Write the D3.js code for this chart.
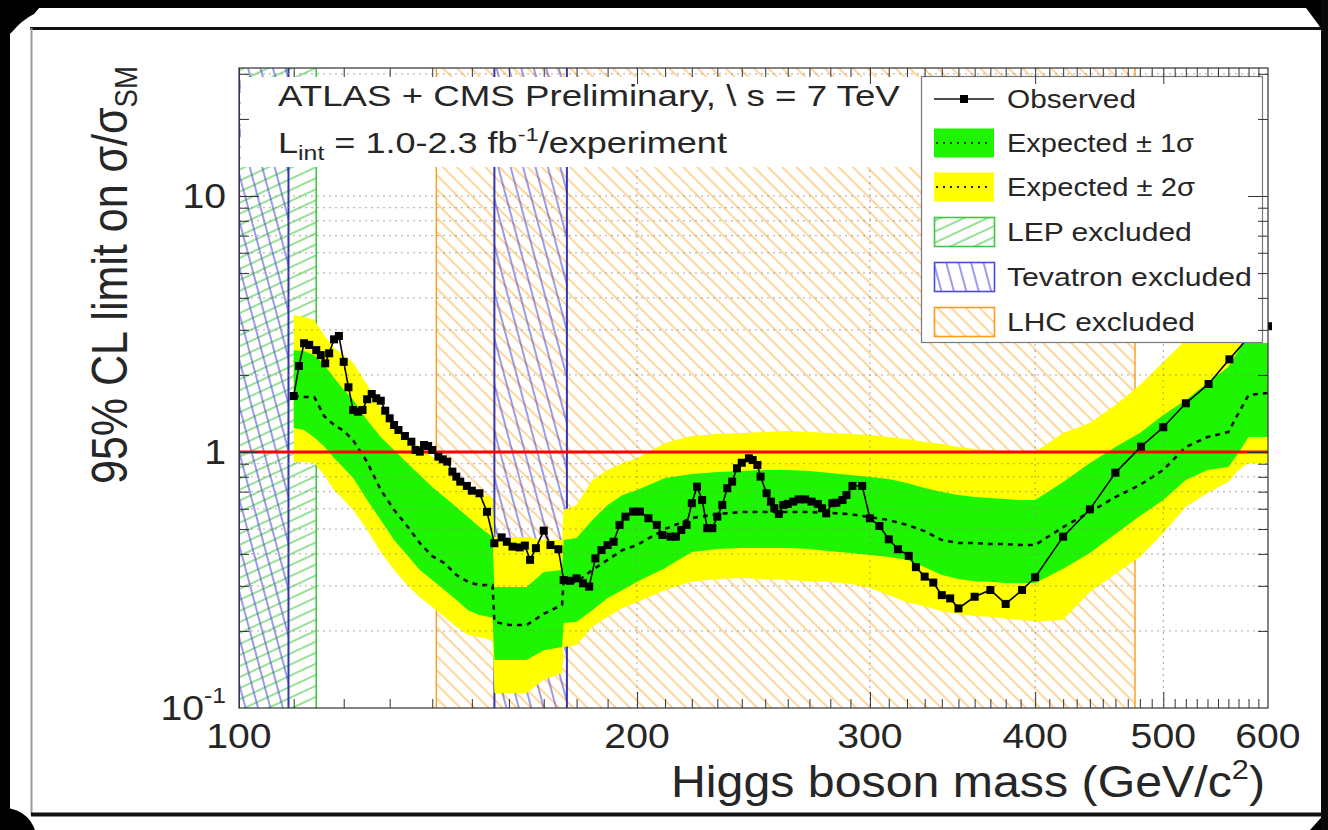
<!DOCTYPE html>
<html lang="en">
<head>
<meta charset="utf-8">
<title>ATLAS + CMS combined Higgs boson limit</title>
<script src="https://cdn.jsdelivr.net/npm/d3@7"></script>
<style>
  html, body { margin: 0; padding: 0; background: #000; }
  svg { display: block; }
</style>
</head>
<body>
<svg id="chart" width="1328" height="830"></svg>
<script>
// ---------------------------------------------------------------------------
// Data: combined 95% CL upper limit on sigma/sigma_SM versus Higgs mass
// ---------------------------------------------------------------------------
const massObs = [110,111,112,113,114.4,115.3,116.2,117,118,119,
  120,121,122,123,124,125,126,127,128,129,
  130,131,132,133.5,135,136,137,138,139,140,
  141.5,142.6,143.7,145,146,147,148.7,150,152,154,
  156,158,159.4,161,163,164.5,166,167.7,170,172,
  174.4,176,178,180,182,184,186,188,190,192,
  194,196,198.6,201,204,207,209,212,214,216,
  218,220,222,224,226,228,230,232,234,236,
  238,240,243,244.6,246.6,248,250.6,252.5,254,256,
  258,260,262.5,265,268,271,274,276,278,281,
  283,286,288,291,296,300,305,310,315,321,
  325,330,335,340,345,350,360,370,380,391,
  400,420,440,460,481,500,520,541,561,580,600];

const limitObs = [1.655,2.167,2.66,2.62,2.50,2.39,2.22,2.43,2.755,2.84,
  2.25,1.79,1.459,1.437,1.459,1.607,1.685,1.621,1.586,1.45,
  1.354,1.275,1.219,1.155,1.097,1.018,1.003,1.065,1.055,1.018,
  0.959,0.936,0.917,0.838,0.801,0.766,0.737,0.706,0.690,0.584,
  0.440,0.464,0.446,0.427,0.424,0.431,0.379,0.421,0.493,0.433,
  0.417,0.316,0.314,0.321,0.307,0.298,0.384,0.414,0.433,0.446,
  0.519,0.559,0.585,0.585,0.551,0.519,0.474,0.467,0.467,0.496,
  0.519,0.631,0.732,0.649,0.504,0.504,0.559,0.621,0.722,0.766,
  0.864,0.908,0.945,0.930,0.890,0.801,0.690,0.640,0.603,0.573,
  0.621,0.627,0.640,0.653,0.653,0.640,0.627,0.603,0.576,0.631,
  0.634,0.649,0.679,0.737,0.737,0.551,0.514,0.456,0.417,0.393,
  0.355,0.326,0.309,0.276,0.268,0.245,0.272,0.289,0.255,0.289,
  0.324,0.467,0.597,0.830,1.049,1.249,1.55,1.844,2.302,2.81,3.10];

const massExp = [110,112,114,116,118,120,122,125,128,131,
  134,137,140,143,146,149,152,155.5,156,160,
  165,170,175.5,176,180,185,190,195,200,210,
  220,230,240,250,260,270,280,290,300,310,
  320,330,340,350,360,370,380,390,400,420,
  440,460,480,500,520,540,560,570,580,600];

const exp2Lo = [0.914,0.914,0.906,0.813,0.711,0.649,0.594,0.496,0.407,0.346,
  0.302,0.271,0.248,0.227,0.207,0.193,0.189,0.184,0.1145,0.1145,
  0.1145,0.129,0.137,0.173,0.176,0.207,0.227,0.246,0.259,0.289,
  0.311,0.319,0.322,0.319,0.316,0.313,0.311,0.305,0.294,0.276,
  0.259,0.250,0.239,0.233,0.229,0.227,0.223,0.221,0.217,0.221,
  0.284,0.334,0.389,0.483,0.610,0.692,0.763,0.851,0.906,0.906];

const exp1Lo = [1.24,1.22,1.14,1.05,0.947,0.866,0.791,0.649,0.542,0.453,
  0.396,0.346,0.316,0.289,0.264,0.241,0.231,0.225,0.154,0.154,
  0.154,0.168,0.173,0.215,0.217,0.241,0.269,0.289,0.311,0.352,
  0.407,0.418,0.422,0.422,0.422,0.418,0.410,0.403,0.396,0.389,
  0.379,0.355,0.331,0.319,0.313,0.311,0.308,0.308,0.308,0.350,
  0.403,0.478,0.562,0.649,0.777,0.851,0.874,0.991,1.144,1.144];

const expMedian = [1.655,1.64,1.64,1.38,1.275,1.21,1.11,0.914,0.711,0.594,
  0.514,0.441,0.392,0.368,0.331,0.311,0.302,0.302,0.217,0.211,
  0.211,0.233,0.253,0.311,0.311,0.346,0.379,0.414,0.433,0.500,
  0.552,0.572,0.583,0.583,0.583,0.583,0.578,0.572,0.557,0.542,
  0.519,0.491,0.453,0.441,0.441,0.437,0.437,0.433,0.433,0.509,
  0.583,0.667,0.743,0.851,1.046,1.144,1.197,1.42,1.670,1.700];

const exp1Hi = [2.50,2.48,2.39,2.19,1.95,1.75,1.60,1.33,1.144,1.018,
  0.906,0.813,0.730,0.667,0.610,0.557,0.509,0.466,0.297,0.297,
  0.297,0.340,0.346,0.453,0.461,0.542,0.621,0.679,0.711,0.791,
  0.820,0.835,0.843,0.851,0.851,0.843,0.828,0.813,0.799,0.784,
  0.757,0.723,0.698,0.679,0.667,0.661,0.655,0.649,0.649,0.763,
  0.906,1.046,1.186,1.395,1.597,1.86,2.148,2.50,2.996,3.279];

const exp2Hi = [3.43,3.37,3.28,2.86,2.55,2.39,2.23,1.83,1.485,1.30,
  1.144,1.046,0.956,0.906,0.806,0.730,0.692,0.661,0.466,0.466,
  0.466,0.453,0.453,0.594,0.621,0.777,0.851,0.906,0.9475,1.084,
  1.155,1.176,1.186,1.197,1.208,1.197,1.186,1.176,1.165,1.144,
  1.124,1.094,1.075,1.046,1.027,1.018,1.009,1.0,1.0,1.186,
  1.298,1.526,1.827,2.247,2.738,3.134,3.586,3.75,3.925,4.105];

// excluded mass ranges (GeV)
const lepExcluded = [100, 114.4];
const tevatronExcluded = [[100, 109], [156, 177]];
const lhcExcluded = [141, 476];
const smLevel = 1;

// axis ticks and labels
const xTickValues = [100, 200, 300, 400, 500, 600];
const xGridValues = [200, 300, 400, 500];
const xMinorValues = [110,120,130,140,150,160,170,180,190,210,220,230,240,250,260,270,280,290,
  310,320,330,340,350,360,370,380,390,410,420,430,440,450,460,470,480,490,510,520,530,540,550,560,570,580,590];
const yTickValues = [0.1, 1, 10];
const yMinorValues = [0.2,0.3,0.4,0.5,0.6,0.7,0.8,0.9,2,3,4,5,6,7,8,9,20,30];
const legendLabels = ['Observed', 'Expected \u00b1 1\u03c3', 'Expected \u00b1 2\u03c3',
  'LEP excluded', 'Tevatron excluded', 'LHC excluded'];

// ---------------------------------------------------------------------------
// Styling
// ---------------------------------------------------------------------------
const FONT = '"Liberation Sans", Arial, Helvetica, sans-serif';
const INK = '#262626';
const GREEN = '#1ef500';
const YELLOW = '#ffff00';
const LEP_COL = '#3fc83f';
const TEV_COL = '#4a4ad6';
const TEV_EDGE = '#3434b0';
const LHC_COL = '#ffb347';
const LHC_EDGE = '#ff9a1f';

const svg = d3.select('#chart');

// ---- surrounding slide ----------------------------------------------------
svg.append('rect').attr('width', 1328).attr('height', 830).attr('fill', '#000');
svg.append('rect').attr('x', 10).attr('y', 8).attr('width', 1312).attr('height', 822).attr('fill', '#fff');
svg.append('path').attr('d', 'M0,0 H46 L34,14 Q22,20 12,32 L0,42 Z').attr('fill', '#000');
svg.append('ellipse').attr('cx', 4).attr('cy', 838).attr('rx', 32).attr('ry', 30).attr('fill', '#000');
svg.append('path').attr('d', 'M1328,810 V830 H1310 Z').attr('fill', '#000');
svg.append('path').attr('d', 'M1300,0 H1328 V40 L1318,24 Z').attr('fill', '#000');
svg.append('rect').attr('x', 1321).attr('y', 0).attr('width', 7).attr('height', 830).attr('fill', '#0a0a0a');
svg.append('rect').attr('x', 30).attr('y', 27).attr('width', 1292).attr('height', 3).attr('fill', '#111');
svg.append('line').attr('x1', 31.5).attr('x2', 31.5).attr('y1', 28).attr('y2', 815)
  .attr('stroke', '#9a9a9a').attr('stroke-width', 2);
svg.append('rect').attr('x', 31).attr('y', 812.5).attr('width', 1291).attr('height', 4).attr('fill', '#111');

// ---- scales ---------------------------------------------------------------
const x = d3.scaleLog().domain([100, 600]).range([239, 1268]);
const y = d3.scaleLog().domain([0.1, Math.pow(10, 1.5)]).range([708, 68]);
const [X0, X1] = x.range();
const [Y0, Y1] = y.range();

// ---- hatch patterns ---------------------------------------------------------
const defs = svg.append('defs');
function hatch(id, spacing, angle, color, width) {
  const p = defs.append('pattern').attr('id', id)
    .attr('patternUnits', 'userSpaceOnUse')
    .attr('width', spacing).attr('height', spacing)
    .attr('patternTransform', `rotate(${angle})`);
  p.append('line').attr('x1', spacing / 2).attr('x2', spacing / 2)
    .attr('y1', 0).attr('y2', spacing)
    .attr('stroke', color).attr('stroke-width', width);
}
hatch('lep-hatch', 10, 65, LEP_COL, 1.1);
hatch('tev-hatch', 12, -15, TEV_COL, 1.1);
hatch('lhc-hatch', 10, -45, LHC_COL, 1.1);

defs.append('clipPath').attr('id', 'plot-clip')
  .append('rect').attr('x', X0).attr('y', Y1).attr('width', X1 - X0).attr('height', Y0 - Y1);

const plot = svg.append('g').attr('clip-path', 'url(#plot-clip)');

// ---- excluded regions -------------------------------------------------------
function region(range, pattern) {
  plot.append('rect')
    .attr('x', x(range[0])).attr('y', Y1)
    .attr('width', x(range[1]) - x(range[0])).attr('height', Y0 - Y1)
    .attr('fill', `url(#${pattern})`);
}
function edge(m, color, width) {
  plot.append('line').attr('x1', x(m)).attr('x2', x(m)).attr('y1', Y1).attr('y2', Y0)
    .attr('stroke', color).attr('stroke-width', width);
}
region(lhcExcluded, 'lhc-hatch');
region(lepExcluded, 'lep-hatch');
tevatronExcluded.forEach(r => region(r, 'tev-hatch'));
edge(lhcExcluded[0], LHC_EDGE, 1.4);
edge(lhcExcluded[1], LHC_EDGE, 1.4);
edge(lepExcluded[1], LEP_COL, 1.6);
tevatronExcluded.forEach(r => { edge(r[0], TEV_EDGE, 2); edge(r[1], TEV_EDGE, 2); });

// ---- expected bands ---------------------------------------------------------
const band = (lo, hi) => d3.area()
  .x((d, i) => x(massExp[i]))
  .y0((d, i) => y(lo[i]))
  .y1((d, i) => y(hi[i]));
plot.append('path').datum(massExp).attr('d', band(exp2Lo, exp2Hi)).attr('fill', YELLOW);
plot.append('path').datum(massExp).attr('d', band(exp1Lo, exp1Hi)).attr('fill', GREEN);

plot.append('path').datum(massExp)
  .attr('d', d3.line().x((d, i) => x(massExp[i])).y((d, i) => y(expMedian[i])))
  .attr('fill', 'none').attr('stroke', '#111').attr('stroke-width', 2.6)
  .attr('stroke-dasharray', '5,5');

// ---- grid ---------------------------------------------------------------------
const grid = plot.append('g').attr('stroke', '#8a8a8a').attr('stroke-width', 1)
  .attr('stroke-dasharray', '2,4').attr('opacity', 0.75);
yMinorValues.concat([10]).forEach(v => {
  grid.append('line').attr('x1', X0).attr('x2', X1).attr('y1', y(v)).attr('y2', y(v));
});
xGridValues.forEach(v => {
  grid.append('line').attr('x1', x(v)).attr('x2', x(v)).attr('y1', Y1).attr('y2', Y0);
});

// ---- SM reference line -------------------------------------------------------
plot.append('line').attr('x1', X0).attr('x2', X1)
  .attr('y1', y(smLevel)).attr('y2', y(smLevel))
  .attr('stroke', '#ff0000').attr('stroke-width', 3);

// ---- observed limit ----------------------------------------------------------
plot.append('path').datum(massObs)
  .attr('d', d3.line().x((d, i) => x(massObs[i])).y((d, i) => y(limitObs[i])))
  .attr('fill', 'none').attr('stroke', '#000').attr('stroke-width', 1.6);
svg.append('g').selectAll('rect').data(massObs).join('rect')
  .attr('x', (d, i) => x(massObs[i]) - 4)
  .attr('y', (d, i) => y(limitObs[i]) - 4)
  .attr('width', 8).attr('height', 8).attr('fill', '#000');

// ---- text helper: horizontal fit to a given width ------------------------------
function fitText(parent, o, build) {
  const g = parent.append('g');
  const t = g.append('text').attr('font-family', FONT)
    .attr('font-size', o.size).attr('fill', o.fill || INK);
  build(t);
  const len = t.node().getComputedTextLength();
  const s = o.width ? o.width / len : (o.stretch || 1);
  const w = len * s;
  const shift = o.anchor === 'end' ? -w : o.anchor === 'middle' ? -w / 2 : 0;
  const rot = o.rotate ? ` rotate(${o.rotate})` : '';
  g.attr('transform', `translate(${o.x},${o.y})${rot} translate(${shift},0) scale(${s},1)`);
  return t;
}

// ---- annotation box -----------------------------------------------------------
svg.append('rect').attr('x', 241).attr('y', 77).attr('width', 680).attr('height', 90).attr('fill', '#fff');
fitText(svg, { x: 278, y: 106, size: 29, width: 622 }, t =>
  t.text('ATLAS + CMS Preliminary, \\ s = 7 TeV'));
fitText(svg, { x: 278, y: 153, size: 29, width: 449 }, t => {
  t.append('tspan').text('L');
  t.append('tspan').attr('font-size', 20).attr('dy', 7).text('int');
  t.append('tspan').attr('font-size', 29).attr('dy', -7).text(' = 1.0-2.3 fb');
  t.append('tspan').attr('font-size', 19).attr('dy', -12).text('-1');
  t.append('tspan').attr('font-size', 29).attr('dy', 12).text('/experiment');
});

// ---- legend ---------------------------------------------------------------------
const legend = svg.append('g');
legend.append('rect').attr('x', 921).attr('y', 76).attr('width', 347).attr('height', 267).attr('fill', '#fff');
legend.append('rect').attr('x', 921.5).attr('y', 76.5).attr('width', 341).attr('height', 266)
  .attr('fill', 'none').attr('stroke', '#7a7a7a').attr('stroke-width', 1.2);
const rowY = [99, 143, 187, 232, 277, 322];
const labelW = [129, 187, 188, 185, 245, 188];
const symX = 934, symW = 60, symH = 29;

legend.append('line').attr('x1', symX).attr('x2', symX + symW).attr('y1', rowY[0]).attr('y2', rowY[0])
  .attr('stroke', '#111').attr('stroke-width', 1.6);
legend.append('rect').attr('x', symX + symW / 2 - 4).attr('y', rowY[0] - 4).attr('width', 8).attr('height', 8).attr('fill', '#000');

[[GREEN, 1], [YELLOW, 2]].forEach(([c, r]) => {
  legend.append('rect').attr('x', symX).attr('y', rowY[r] - symH / 2).attr('width', symW).attr('height', symH).attr('fill', c);
  legend.append('line').attr('x1', symX + 2).attr('x2', symX + symW - 2).attr('y1', rowY[r]).attr('y2', rowY[r])
    .attr('stroke', '#222').attr('stroke-width', 2).attr('stroke-dasharray', '2,5');
});
[['lep-hatch', LEP_COL, 3], ['tev-hatch', TEV_COL, 4], ['lhc-hatch', LHC_EDGE, 5]].forEach(([p, c, r]) => {
  legend.append('rect').attr('x', symX + 0.5).attr('y', rowY[r] - symH / 2).attr('width', symW).attr('height', symH)
    .attr('fill', `url(#${p})`).attr('stroke', c).attr('stroke-width', 1.6);
});
legendLabels.forEach((lab, i) => {
  fitText(legend, { x: 1007, y: rowY[i] + 9, size: 25, width: labelW[i] }, t => t.text(lab));
});

// ---- frame and axes --------------------------------------------------------------
const axes = svg.append('g');
function tickAxis(gen, tx, ty) {
  const g = axes.append('g').attr('transform', `translate(${tx},${ty})`).call(gen);
  g.select('.domain').remove();
  g.selectAll('line').attr('stroke', '#333').attr('stroke-width', 1);
}
tickAxis(d3.axisBottom(x).tickValues(xGridValues).tickSize(-16).tickFormat(''), 0, Y0);
tickAxis(d3.axisBottom(x).tickValues(xMinorValues).tickSize(-9).tickFormat(''), 0, Y0);
tickAxis(d3.axisTop(x).tickValues(xGridValues).tickSize(-16).tickFormat(''), 0, Y1);
tickAxis(d3.axisTop(x).tickValues(xMinorValues).tickSize(-9).tickFormat(''), 0, Y1);
tickAxis(d3.axisLeft(y).tickValues([1, 10]).tickSize(-20).tickFormat(''), X0, 0);
tickAxis(d3.axisLeft(y).tickValues(yMinorValues).tickSize(-10).tickFormat(''), X0, 0);
tickAxis(d3.axisRight(y).tickValues([1, 10]).tickSize(-20).tickFormat(''), X1, 0);
tickAxis(d3.axisRight(y).tickValues(yMinorValues).tickSize(-10).tickFormat(''), X1, 0);
axes.append('rect').attr('x', X0).attr('y', Y1).attr('width', X1 - X0).attr('height', Y0 - Y1)
  .attr('fill', 'none').attr('stroke', '#333').attr('stroke-width', 1.2);

// tick labels
xTickValues.forEach(v => {
  fitText(axes, { x: x(v), y: 748, size: 35, stretch: 1.12, anchor: 'middle' }, t => t.text(String(v)));
});
yTickValues.forEach(v => {
  fitText(axes, { x: 226, y: y(v) + 12, size: 35, stretch: 1.12, anchor: 'end' }, t => {
    if (v < 1) {
      t.append('tspan').text('10');
      t.append('tspan').attr('font-size', 22).attr('dy', -17).text('-1');
    } else {
      t.text(String(v));
    }
  });
});

// axis titles
fitText(axes, { x: 1265, y: 797, size: 44, width: 594, anchor: 'end' }, t => {
  t.append('tspan').text('Higgs boson mass (GeV/c');
  t.append('tspan').attr('font-size', 28).attr('dy', -18).text('2');
  t.append('tspan').attr('font-size', 44).attr('dy', 18).text(')');
});
fitText(axes, { x: 127, y: 275, size: 50, width: 418, anchor: 'middle', rotate: -90 }, t => {
  t.append('tspan').text('95% CL limit on \u03c3/\u03c3');
  t.append('tspan').attr('font-size', 32).attr('dy', 10).text('SM');
});
</script>
</body>
</html>
